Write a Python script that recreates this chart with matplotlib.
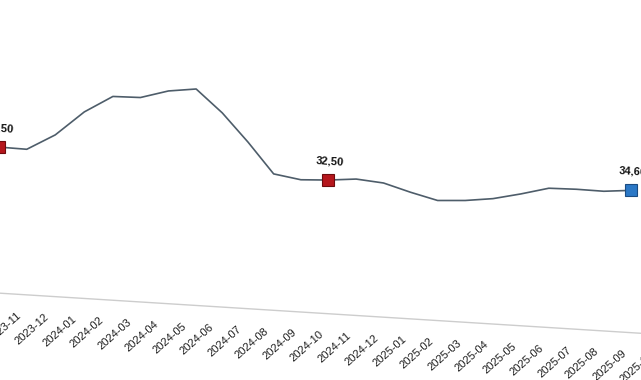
import matplotlib
matplotlib.use('Agg')
import matplotlib.pyplot as plt
from matplotlib.transforms import Affine2D, offset_copy

# mois affichés sur l'axe (le dernier n'a pas encore de valeur)
months = ['2023-10', '2023-11', '2023-12', '2024-01', '2024-02', '2024-03',
          '2024-04', '2024-05', '2024-06', '2024-07', '2024-08', '2024-09',
          '2024-10', '2024-11', '2024-12', '2025-01', '2025-02', '2025-03',
          '2025-04', '2025-05', '2025-06', '2025-07', '2025-08', '2025-09',
          '2025-10']
values = [35.50, 35.39, 39.32, 45.35, 49.54, 49.70, 51.72, 52.62, 47.21,
          40.49, 33.16, 32.15, 32.50, 33.16, 32.62, 30.78, 29.19, 29.61,
          30.48, 32.05, 33.86, 34.03, 33.96, 34.60]

# points mis en évidence (même mois chaque année + dernier point)
highlight_idx = [0, 12, 23]
highlight_fill = ['#b5161c', '#b5161c', '#2b78c6']
highlight_edge = ['#6e0b0e', '#6e0b0e', '#1b4c82']

tilt = -3.58  # la capture est légèrement penchée

fig = plt.figure(figsize=(6.41, 3.8), dpi=100)
ax = fig.add_axes([0, 67 / 380, 1, (354.4 - 67) / 380])
ax.set_xlim(0.1, 0.1 + 641 / 27.55)
ax.set_ylim(0, 70)
ax.axis('off')

rot = Affine2D().rotate_deg_around(320.5, 190, tilt)
tr = ax.transData + rot

x = list(range(len(values)))

# ligne de base de l'axe x
ax.plot([-2, len(months) + 2], [0, 0], color='#cdcdcd', lw=1.0,
        transform=tr, clip_on=False, zorder=1)

ax.plot(x, values, color='#4e5d6a', lw=1.2, transform=tr,
        clip_on=False, zorder=2)

for i, fc, ec in zip(highlight_idx, highlight_fill, highlight_edge):
    ax.plot([i], [values[i]], marker='s', ms=8.6, mfc=fc, mec=ec, mew=0.8,
            transform=tr, clip_on=False, zorder=3)
    lab = f"{values[i]:.2f}".replace('.', ',')
    ax.text(i, values[i], lab,
            transform=offset_copy(ax.transData, fig=fig, y=14, units='dots') + rot,
            ha='center', va='bottom', rotation=tilt, rotation_mode='anchor',
            fontsize=8, fontweight='bold', color='#111111',
            family=['Liberation Sans Narrow', 'Liberation Sans', 'DejaVu Sans'],
            clip_on=False)

for i, m in enumerate(months):
    ax.text(i, 0, m,
            transform=offset_copy(ax.transData, fig=fig, y=-16, units='dots') + rot,
            ha='right', va='top', rotation=45 + tilt, rotation_mode='anchor',
            fontsize=8, color='#1e1e1e',
            family=['Liberation Sans', 'DejaVu Sans'], clip_on=False)

fig.savefig('out.png', dpi=100, facecolor='white')
